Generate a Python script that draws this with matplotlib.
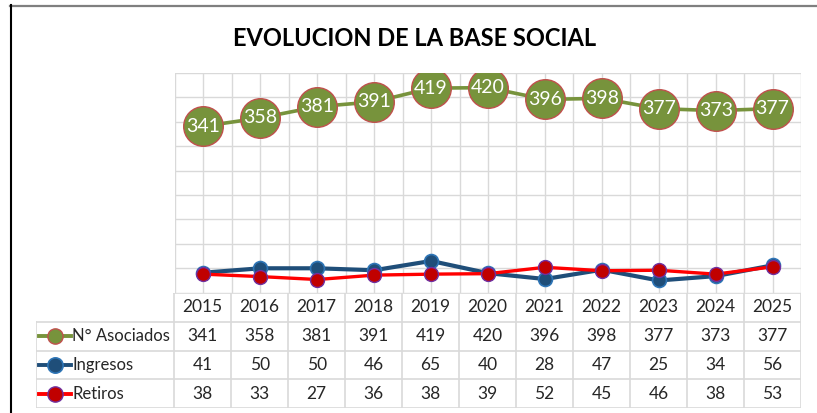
import numpy as np
import matplotlib.pyplot as plt
from matplotlib.lines import Line2D

# Data
years = ['2015', '2016', '2017', '2018', '2019', '2020', '2021', '2022', '2023', '2024', '2025']
asociados = [341, 358, 381, 391, 419, 420, 396, 398, 377, 373, 377]
ingresos = [41, 50, 50, 46, 65, 40, 28, 47, 25, 34, 56]
retiros = [38, 33, 27, 36, 38, 39, 52, 45, 46, 38, 53]
series_names = ['N° Asociados', 'Ingresos', 'Retiros']

plt.rcParams['font.family'] = ['Lato', 'DejaVu Sans']

W, H = 817, 413
fig = plt.figure(figsize=(W / 100, H / 100), dpi=100)

def fx(px):
    return px / W

def fy(py):
    return 1 - py / H

grid_c = '#D9D9D9'
styles = [
    dict(color='#77933C', lw=2.6, marker='o', ms=28.5, mfc='#77933C', mec='#C0504D', mew=1),
    dict(color='#1F4E79', lw=3.0, marker='o', ms=10, mfc='#1F4E79', mec='#2E75B6', mew=1.2),
    dict(color='#FF0000', lw=2.4, marker='o', ms=10, mfc='#C00000', mec='#7030A0', mew=1),
]

# plot area
left, right, top, bottom = 175, 801, 73, 292.7
ax = fig.add_axes([fx(left), fy(bottom), fx(right - left), fy(top) - fy(bottom)])
x = np.arange(len(years))
ax.plot(x, asociados, zorder=3, **styles[0])
ax.plot(x, ingresos, zorder=3, **styles[1])
ax.plot(x, retiros, zorder=4, **styles[2])
for xi, v in zip(x, asociados):
    ax.text(xi, v, str(v), color='white', fontsize=14, ha='center', va='center', zorder=5)

ax.set_xlim(-0.5, len(years) - 0.5)
ax.set_ylim(0, 450)
ax.set_yticks(np.arange(0, 451, 50))
ax.set_xticks(np.arange(-0.5, len(years), 1))
ax.set_xticks(x, minor=True)
ax.grid(True, which='both', color=grid_c, lw=1)
ax.tick_params(which='both', length=0, labelleft=False, labelbottom=False)
for s in ax.spines.values():
    s.set_visible(False)
ax.set_axisbelow(True)

# data table under the plot
label_w = (174 - 36) / ((right - left) / len(years))
tb_top, tb_bot = 292.7, 408.3
tax = fig.add_axes([fx(36), fy(tb_bot), fx(right - 36), fy(tb_top) - fy(tb_bot)])
tax.set_xlim(-0.5 - label_w, len(years) - 0.5)
tax.set_ylim(4, 0)
tax.axis('off')
xl = -0.5 - label_w
# horizontal lines
tax.plot([-0.5, len(years) - 0.5], [0, 0], color=grid_c, lw=1.2)
for r in range(1, 5):
    tax.plot([xl, len(years) - 0.5], [r, r], color=grid_c, lw=1.2)
# vertical lines
tax.plot([xl, xl], [1, 4], color=grid_c, lw=1.2)
for c in range(len(years) + 1):
    tax.plot([c - 0.5, c - 0.5], [0, 4], color=grid_c, lw=1.2)

fs = 12.5
for i, yr in enumerate(years):
    tax.text(i, 0.5, yr, ha='center', va='center', fontsize=fs, color='#262626')
for r, vals in enumerate([asociados, ingresos, retiros], start=1):
    for i, v in enumerate(vals):
        tax.text(i, r + 0.5, str(v), ha='center', va='center', fontsize=fs, color='#262626')

# legend keys inside the table
key_x0, key_x1 = xl + 0.05, xl + 0.62
for r, (name, st) in enumerate(zip(series_names, styles), start=1):
    tax.plot([key_x0, key_x1], [r + 0.5, r + 0.5], color=st['color'], lw=2.8)
    tax.plot([(key_x0 + key_x1) / 2], [r + 0.5], marker='o', ms=11,
             mfc=st['mfc'], mec=st['mec'], mew=st['mew'], ls='none')
    tax.text(key_x1 + 0.02, r + 0.5, name, ha='left', va='center', fontsize=12, color='#262626')

# title
fig.text(fx(415), fy(38), 'EVOLUCION DE LA BASE SOCIAL', ha='center', va='center',
         fontsize=17, fontweight='bold', color='black')

# chart frame edges
fig.add_artist(Line2D([fx(10), 1], [fy(5.5), fy(5.5)], color='#7F7F7F', lw=1.6))
fig.add_artist(Line2D([fx(10.5), fx(10.5)], [fy(5), 0], color='black', lw=1.5))

fig.savefig('out.png', dpi=100)
